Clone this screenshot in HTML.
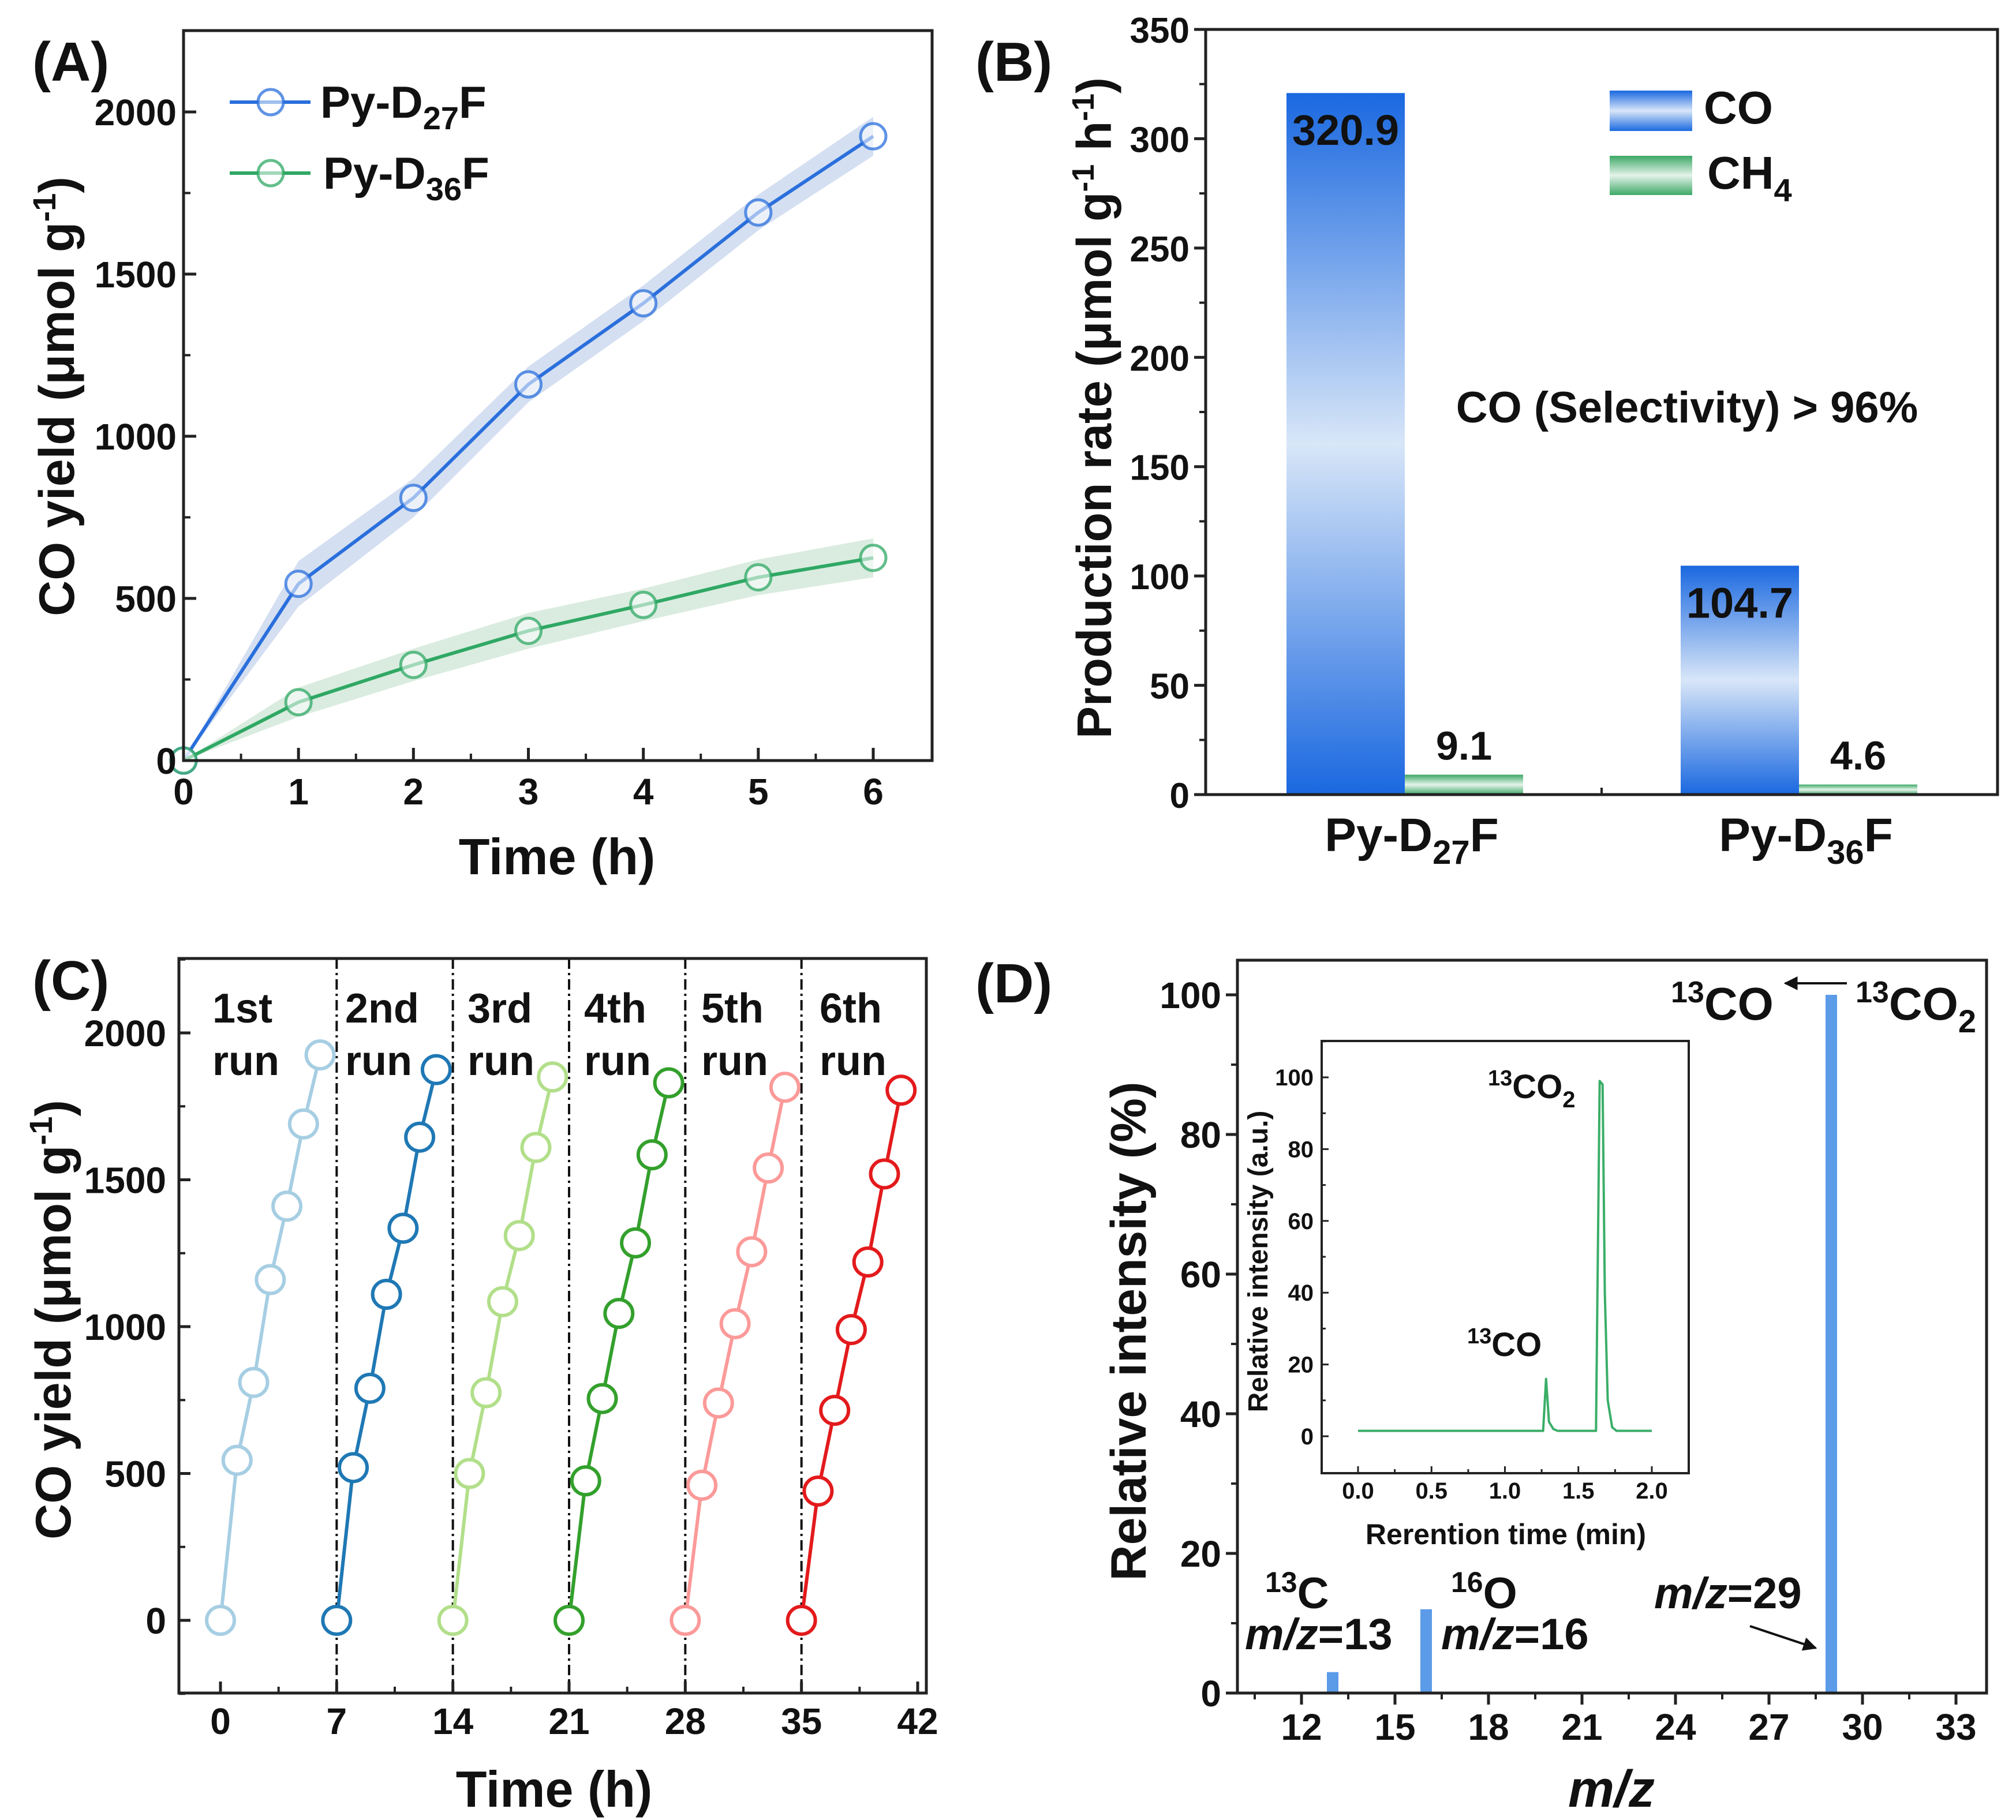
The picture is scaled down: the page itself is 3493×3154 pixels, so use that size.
<!DOCTYPE html>
<html><head><meta charset="utf-8"><style>
html,body{margin:0;padding:0;background:#fff;}
svg{display:block;}
text{font-family:"Liberation Sans",Arial,sans-serif;font-weight:bold;fill:#111;}
</style></head><body>
<svg id="fig" width="3493" height="3154" viewBox="0 0 3493 3154" xmlns="http://www.w3.org/2000/svg">
<defs>
<linearGradient id="gCO" x1="0" y1="0" x2="0" y2="1">
<stop offset="0" stop-color="#1a68e0"/><stop offset="0.5" stop-color="#d8e6f8"/><stop offset="1" stop-color="#1a68e0"/></linearGradient>
<linearGradient id="gCH" x1="0" y1="0" x2="0" y2="1">
<stop offset="0" stop-color="#3da866"/><stop offset="0.5" stop-color="#e4f3ea"/><stop offset="1" stop-color="#3da866"/></linearGradient>
<marker id="arr" viewBox="0 0 10 10" refX="9" refY="5" markerWidth="6" markerHeight="6" orient="auto"><path d="M0,0 L10,5 L0,10 z" fill="#111"/></marker>
</defs>
<g id="pA"></g>
<g id="pB"></g>
<g id="pC"></g>
<g id="pD"></g>
</svg>
<script>
// ---------- DATA ----------
const aTimes=[0,1,2,3,4,5,6];
const aPyD27=[0,545,810,1160,1410,1690,1925];
const aPyD36=[0,180,295,400,480,565,625];
const aErr27=[0,70,60,55,55,55,60];
const aErr36=[0,45,50,55,50,55,60];
const aXTicks=[0,1,2,3,4,5,6];
const aYTicks=[0,500,1000,1500,2000];

const bCategories=["Py-D27F","Py-D36F"];
const bCO=[320.9,104.7];
const bCH4=[9.1,4.6];
const bYTicks=[0,50,100,150,200,250,300,350];

const cRun1=[0,545,810,1160,1410,1690,1925];
const cRun2=[0,520,790,1110,1335,1645,1875];
const cRun3=[0,500,775,1085,1310,1610,1850];
const cRun4=[0,475,755,1045,1285,1585,1830];
const cRun5=[0,460,740,1010,1255,1540,1815];
const cRun6=[0,440,715,990,1220,1520,1805];
const cRunStarts=[0,7,14,21,28,35];
const cRunLabels=["1st","2nd","3rd","4th","5th","6th"];
const cXTicks=[0,7,14,21,28,35,42];
const cYTicks=[0,500,1000,1500,2000];

const dMz=[13,16,29];
const dIntensity=[3,12,100];
const dXTicks=[12,15,18,21,24,27,30,33];
const dYTicks=[0,20,40,60,80,100];
const insetTime=[0,0.5,1.0,1.26,1.28,1.30,1.33,1.36,1.62,1.635,1.645,1.665,1.68,1.70,1.73,1.76,2.0];
const insetSignal=[1.5,1.5,1.5,1.5,16,4,2,1.5,1.5,60,99,98,40,10,2.5,1.5,1.5];
const insetXTicks=[0.0,0.5,1.0,1.5,2.0];
const insetYTicks=[0,20,40,60,80,100];

// ---------- helpers ----------
const NS="http://www.w3.org/2000/svg";
function mk(parent,tag,attrs,txt){const e=document.createElementNS(NS,tag);for(const k in attrs)e.setAttribute(k,attrs[k]);if(txt!==undefined)e.textContent=txt;parent.appendChild(e);return e;}
function lin(d0,d1,r0,r1){return v=>r0+(v-d0)*(r1-r0)/(d1-d0);}

// ---------- PANEL A ----------
(function(){
const g=document.getElementById('pA');
const L=318,R=1615,T=53,B=1318;
const x=lin(0,6,318,1513), y=lin(0,2000,1318,194);
[[aPyD27,aErr27,'#a9bfe3'],[aPyD36,aErr36,'#b5d9c0']].forEach((s,si)=>{
 let up=aTimes.map((t,i)=>x(t)+','+y(s[0][i]+s[1][i])).join(' ');
 let lo=aTimes.map((t,i)=>x(t)+','+y(s[0][i]-s[1][i])).reverse().join(' ');
 const p=mk(g,'polygon',{points:up+' '+lo,fill:s[2],opacity:0.5});
 
 
});
[[aPyD27,'#2a6fdc','py-d27f'],[aPyD36,'#2fa864','py-d36f']].forEach(s=>{
 const l=mk(g,'polyline',{points:aTimes.map((t,i)=>x(t)+','+y(s[0][i])).join(' '),fill:'none',stroke:s[1],'stroke-width':6});
 
 
 aTimes.forEach((t,i)=>{const c=mk(g,'circle',{cx:x(t),cy:y(s[0][i]),r:22,fill:'#fff','fill-opacity':0.55,stroke:s[1],'stroke-opacity':0.75,'stroke-width':5});
 
 });
});
const ax=mk(g,'rect',{x:L,y:T,width:R-L,height:B-T,fill:'none',stroke:'#222','stroke-width':5});


aXTicks.forEach(t=>{mk(g,'line',{x1:x(t),x2:x(t),y1:B,y2:B-22,stroke:'#222','stroke-width':5});
 if(t<6)mk(g,'line',{x1:x(t+0.5),x2:x(t+0.5),y1:B,y2:B-12,stroke:'#222','stroke-width':4});
 const tx=mk(g,'text',{x:x(t),y:B+76,'font-size':64,'text-anchor':'middle'},t);
 
 });
aYTicks.forEach(v=>{mk(g,'line',{x1:L,x2:L+22,y1:y(v),y2:y(v),stroke:'#222','stroke-width':5});
 if(v<2000)mk(g,'line',{x1:L,x2:L+12,y1:y(v+250),y2:y(v+250),stroke:'#222','stroke-width':4});
 const tx=mk(g,'text',{x:L-12,y:y(v)+23,'font-size':64,'text-anchor':'end'},v);
 
 });
g.insertAdjacentHTML('beforeend',`
<text x="56" y="140" font-size="96">(A)</text>
<text x="965" y="1515" font-size="88" text-anchor="middle">Time (h)</text>
<text transform="translate(128,687) rotate(-90)" font-size="86" text-anchor="middle">CO yield (μmol g<tspan dy="-32" font-size="56">-1</tspan><tspan dy="32">)</tspan></text>
<g>
<line x1="398" x2="538" y1="177" y2="177" stroke="#2a6fdc" stroke-width="6"/>
<circle cx="469" cy="177" r="22" fill="#fff" fill-opacity="0.55" stroke="#2a6fdc" stroke-opacity="0.75" stroke-width="5"/>
<text x="555" y="204" font-size="78">Py-D<tspan dy="20" font-size="56">27</tspan><tspan dy="-20">F</tspan></text>
<line x1="398" x2="538" y1="300" y2="300" stroke="#2fa864" stroke-width="6"/>
<circle cx="469" cy="300" r="22" fill="#fff" fill-opacity="0.55" stroke="#2fa864" stroke-opacity="0.75" stroke-width="5"/>
<text x="560" y="327" font-size="78">Py-D<tspan dy="20" font-size="56">36</tspan><tspan dy="-20">F</tspan></text>
</g>`);
})();

// ---------- PANEL B ----------
(function(){
const g=document.getElementById('pB');
const L=2089,R=3461,T=51,B=1377;
const y=lin(0,350,B,T);
const centers=[2434,3117], bw=205;
bCategories.forEach((c,i)=>{
 const r1=mk(g,'rect',{x:centers[i]-bw,y:y(bCO[i]),width:bw,height:B-y(bCO[i]),fill:'url(#gCO)'});
 
 
 const r2=mk(g,'rect',{x:centers[i],y:y(bCH4[i]),width:bw,height:B-y(bCH4[i]),fill:'url(#gCH)'});
 
 
 const t1=mk(g,'text',{x:centers[i]-bw/2,y:y(bCO[i])+90,'font-size':74,'text-anchor':'middle'},bCO[i].toFixed(1));
 
 
 const t2=mk(g,'text',{x:centers[i]+bw/2,y:y(bCH4[i])-26,'font-size':70,'text-anchor':'middle'},bCH4[i].toFixed(1));
 
 
 const xl=mk(g,'text',{x:centers[i]+12,y:1475,'font-size':82,'text-anchor':'middle'});
 
 
 xl.innerHTML='Py-D<tspan dy="22" font-size="58">'+c.slice(4,6)+'</tspan><tspan dy="-22">F</tspan>';
});
const ax=mk(g,'rect',{x:L,y:T,width:R-L,height:B-T,fill:'none',stroke:'#222','stroke-width':5});


mk(g,'line',{x1:2775,x2:2775,y1:B,y2:B-12,stroke:'#222','stroke-width':4});
bYTicks.forEach(v=>{mk(g,'line',{x1:L,x2:L-20,y1:y(v),y2:y(v),stroke:'#222','stroke-width':5});
 if(v<350)mk(g,'line',{x1:L,x2:L-11,y1:y(v+25),y2:y(v+25),stroke:'#222','stroke-width':4});
 const tx=mk(g,'text',{x:L-28,y:y(v)+23,'font-size':62,'text-anchor':'end'},v);
 
 });
g.insertAdjacentHTML('beforeend',`
<text x="1690" y="140" font-size="96">(B)</text>
<text transform="translate(1925,707) rotate(-90)" font-size="84" text-anchor="middle">Production rate (μmol g<tspan dy="-30" font-size="54">-1</tspan><tspan dy="30"> h</tspan><tspan dy="-30" font-size="54">-1</tspan><tspan dy="30">)</tspan></text>
<rect x="2789" y="157" width="143" height="70" fill="url(#gCO)"/>
<text x="2952" y="214" font-size="80">CO</text>
<rect x="2789" y="270" width="143" height="68" fill="url(#gCH)"/>
<text x="2958" y="327" font-size="80">CH<tspan dy="22" font-size="56">4</tspan></text>
<text x="2923" y="732" font-size="76" text-anchor="middle">CO (Selectivity) &gt; 96%</text>`);
})();

// ---------- PANEL C ----------
(function(){
const g=document.getElementById('pC');
const L=310,R=1605,T=1661,B=2934;
const x=lin(0,42,382,1590), y=lin(0,2000,2808,1790);
const runs=[cRun1,cRun2,cRun3,cRun4,cRun5,cRun6];
const cols=['#a6cee3','#1f78b4','#b2df8a','#33a02c','#fb9a99','#e31a1c'];
cRunStarts.slice(1).forEach(s=>{const l=mk(g,'line',{x1:x(s),x2:x(s),y1:T,y2:B,stroke:'#111','stroke-width':4,'stroke-dasharray':'18 7 4 7'});
 
 });
runs.forEach((r,ri)=>{
 const pts=r.map((v,i)=>x(cRunStarts[ri]+i)+','+y(v)).join(' ');
 const l=mk(g,'polyline',{points:pts,fill:'none',stroke:cols[ri],'stroke-width':6});
 
 
 r.forEach((v,i)=>{const c=mk(g,'circle',{cx:x(cRunStarts[ri]+i),cy:y(v),r:24,fill:'#fff',stroke:cols[ri],'stroke-width':6});
 
 });
 const lx=[368,598,810,1012,1215,1420][ri];
 const t1=mk(g,'text',{x:lx,y:1772,'font-size':72},cRunLabels[ri]);
 
 
 const t2=mk(g,'text',{x:lx,y:1863,'font-size':72},'run');
 
 
});
const ax=mk(g,'rect',{x:L,y:T,width:R-L,height:B-T,fill:'none',stroke:'#222','stroke-width':5});


cXTicks.forEach(t=>{mk(g,'line',{x1:x(t),x2:x(t),y1:B,y2:B-20,stroke:'#222','stroke-width':5});
 if(t<42)mk(g,'line',{x1:x(t+3.5),x2:x(t+3.5),y1:B,y2:B-11,stroke:'#222','stroke-width':4});
 const tx=mk(g,'text',{x:x(t),y:3005,'font-size':64,'text-anchor':'middle'},t);
 
 });
cYTicks.forEach(v=>{mk(g,'line',{x1:L,x2:L+20,y1:y(v),y2:y(v),stroke:'#222','stroke-width':5});
 mk(g,'line',{x1:L,x2:L+11,y1:y(v+250),y2:y(v+250),stroke:'#222','stroke-width':4});
 const tx=mk(g,'text',{x:L-22,y:y(v)+23,'font-size':64,'text-anchor':'end'},v);
 
 });
mk(g,'line',{x1:L,x2:L+11,y1:y(-250),y2:y(-250),stroke:'#222','stroke-width':4});
g.insertAdjacentHTML('beforeend',`
<text x="56" y="1732" font-size="96">(C)</text>
<text x="960" y="3131" font-size="88" text-anchor="middle">Time (h)</text>
<text transform="translate(122,2287) rotate(-90)" font-size="86" text-anchor="middle">CO yield (μmol g<tspan dy="-32" font-size="56">-1</tspan><tspan dy="32">)</tspan></text>`);
})();

// ---------- PANEL D ----------
(function(){
const g=document.getElementById('pD');
const L=2144,R=3442,T=1664,B=2934;
const x=lin(12,33,2255,3389), y=lin(0,100,2934,1724);
dMz.forEach((m,i)=>{const r=mk(g,'rect',{x:x(m)-10,y:y(dIntensity[i]),width:20,height:B-y(dIntensity[i]),fill:'#5b9be8'});
 
 });
const ax=mk(g,'rect',{x:L,y:T,width:R-L,height:B-T,fill:'none',stroke:'#222','stroke-width':5});


dXTicks.forEach(t=>{mk(g,'line',{x1:x(t),x2:x(t),y1:B,y2:B+20,stroke:'#222','stroke-width':5});
 mk(g,'line',{x1:x(t-1.5),x2:x(t-1.5),y1:B,y2:B+11,stroke:'#222','stroke-width':4});
 const tx=mk(g,'text',{x:x(t),y:3015,'font-size':64,'text-anchor':'middle'},t);
 
 });
dYTicks.forEach(v=>{mk(g,'line',{x1:L,x2:L-20,y1:y(v),y2:y(v),stroke:'#222','stroke-width':5});
 if(v<100)mk(g,'line',{x1:L,x2:L-11,y1:y(v+10),y2:y(v+10),stroke:'#222','stroke-width':4});
 const tx=mk(g,'text',{x:L-28,y:y(v)+23,'font-size':64,'text-anchor':'end'},v);
 
 });
// inset
const iL=2290,iR=2926,iT=1804,iB=2553;
const ix=lin(0,2,2353,2862), iy=lin(0,100,2489,1867);
const ib=mk(g,'rect',{x:iL,y:iT,width:iR-iL,height:iB-iT,fill:'#fff',stroke:'#222','stroke-width':4});


const tr=mk(g,'polyline',{points:insetTime.map((t,i)=>ix(t)+','+iy(insetSignal[i])).join(' '),fill:'none',stroke:'#3aae68','stroke-width':4,'stroke-linejoin':'round'});


insetXTicks.forEach(t=>{mk(g,'line',{x1:ix(t),x2:ix(t),y1:iB,y2:iB-12,stroke:'#222','stroke-width':3});
 if(t<2)mk(g,'line',{x1:ix(t+0.25),x2:ix(t+0.25),y1:iB,y2:iB-7,stroke:'#222','stroke-width':3});
 const tx=mk(g,'text',{x:ix(t),y:2597,'font-size':40,'text-anchor':'middle'},t.toFixed(1));
 
 });
insetYTicks.forEach(v=>{mk(g,'line',{x1:iL,x2:iL+12,y1:iy(v),y2:iy(v),stroke:'#222','stroke-width':3});
 mk(g,'line',{x1:iL,x2:iL+7,y1:iy(v+10),y2:iy(v+10),stroke:'#222','stroke-width':3});
 const tx=mk(g,'text',{x:iL-14,y:iy(v)+14,'font-size':40,'text-anchor':'end'},v);
 
 });
g.insertAdjacentHTML('beforeend',`
<text x="1690" y="1737" font-size="96">(D)</text>
<text x="2792" y="3131" font-size="90" text-anchor="middle" font-style="italic">m/z</text>
<text transform="translate(1985,2307) rotate(-90)" font-size="86" text-anchor="middle">Relative intensity (%)</text>
<text x="2609" y="2676" font-size="50" text-anchor="middle">Rerention time (min)</text>
<text transform="translate(2196,2186) rotate(-90)" font-size="48" text-anchor="middle">Relative intensity  (a.u.)</text>
<text x="2578" y="1903" font-size="58"><tspan dy="-22" font-size="38">13</tspan><tspan dy="22">CO</tspan><tspan dy="16" font-size="40">2</tspan></text>
<text x="2542" y="2350" font-size="58"><tspan dy="-22" font-size="38">13</tspan><tspan dy="22">CO</tspan></text>
<text x="2895" y="1767" font-size="80"><tspan dy="-30" font-size="52">13</tspan><tspan dy="30">CO</tspan></text>
<line x1="3200" y1="1704" x2="3093" y2="1704" stroke="#111" stroke-width="4" marker-end="url(#arr)"/>
<text x="3215" y="1767" font-size="80"><tspan dy="-30" font-size="52">13</tspan><tspan dy="30">CO</tspan><tspan dy="22" font-size="56">2</tspan></text>
<text x="2866" y="2787" font-size="76"><tspan font-style="italic">m/z</tspan>=29</text>
<line x1="3032" y1="2818" x2="3146" y2="2856" stroke="#111" stroke-width="4" marker-end="url(#arr)"/>
<text x="2192" y="2787" font-size="76"><tspan dy="-28" font-size="50">13</tspan><tspan dy="28">C</tspan></text>
<text x="2157" y="2858" font-size="76"><tspan font-style="italic">m/z</tspan>=13</text>
<text x="2514" y="2787" font-size="76"><tspan dy="-28" font-size="50">16</tspan><tspan dy="28">O</tspan></text>
<text x="2497" y="2858" font-size="76"><tspan font-style="italic">m/z</tspan>=16</text>`);
})();
</script>
</body></html>
